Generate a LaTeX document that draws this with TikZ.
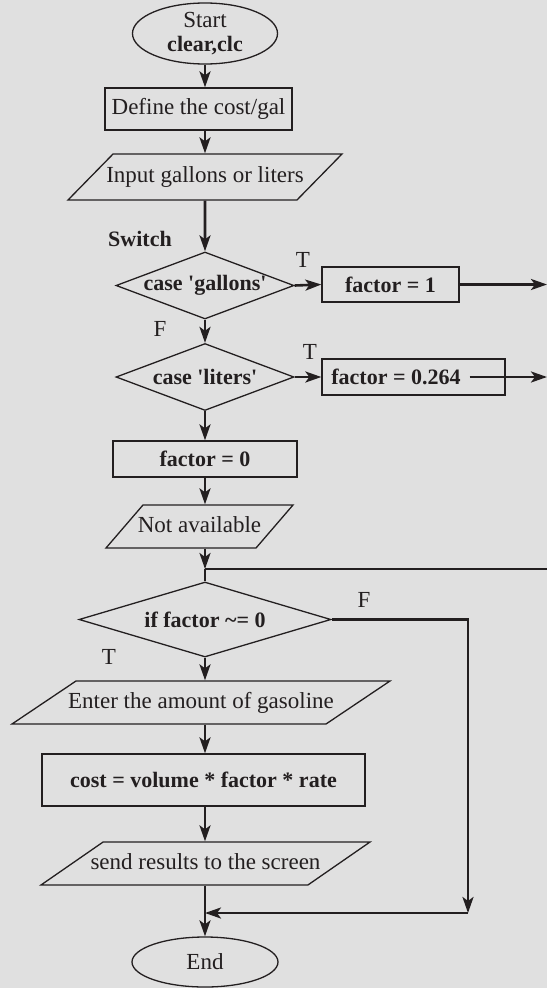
\documentclass[tikz,border=0pt]{standalone}
\usepackage{fontspec}
\setmainfont{Liberation Serif}
\usetikzlibrary{shapes.geometric,arrows.meta}
\definecolor{bg}{RGB}{224,224,224}
\definecolor{ink}{RGB}{35,31,32}
\begin{document}
\begin{tikzpicture}[x=1pt,y=-1pt,
  every node/.style={font=\fontsize{23}{24}\selectfont, text=ink},
  bf/.style={font=\fontsize{22}{24}\selectfont\bfseries},
  shapebox/.style={draw=ink, line width=1.3pt, rectangle, inner sep=0pt},
  para/.style={draw=ink, line width=1.3pt, trapezium, trapezium stretches body,
               inner xsep=-70pt, text height=16pt, text depth=5pt},
  dia/.style={draw=ink, line width=1.3pt, diamond, inner sep=0pt},
  term/.style={draw=ink, line width=1.3pt, ellipse, inner sep=0pt},
  flow/.style={draw=ink, line width=2.6pt},
  arr/.style={flow, -{Stealth[length=16pt,width=11pt,inset=4pt]}}
]
\fill[bg] (0,0) rectangle (547,988);
\useasboundingbox (0,0) rectangle (547,988);

\coordinate (sx) at (205,0);
\coordinate (rim) at (547,0);

% nodes
\node[term, minimum width=145pt, minimum height=61pt, align=center] (start) at (205,33.5)
  {Start\\{\fontsize{22}{24}\selectfont\bfseries clear,clc}};
\node[shapebox, minimum width=187pt, minimum height=42pt] (b1) at (198.5,109) {Define the cost/gal};
\node[para, trapezium left angle=45.6, trapezium right angle=134.4, inner ysep=12.5pt,
      minimum width=274pt] (p1) at (205,177) {Input gallons or liters};
\node[bf] (sw) at (140,239) {Switch};
\node[dia, bf, minimum width=178pt, minimum height=67pt, aspect=2.66] (d1) at (205,285.5)
  {case \textquotesingle gallons\textquotesingle};
\node[shapebox, bf, minimum width=137pt, minimum height=35pt] (f1) at (390.5,284.5) {factor = 1};
\node[dia, bf, minimum width=178pt, minimum height=67pt, aspect=2.66] (d2) at (205,377)
  {case \textquotesingle liters\textquotesingle};
\node[shapebox, minimum width=183pt, minimum height=36pt] (f2) at (413.5,377) {};
\node[bf] (f2t) at (396,377) {factor = 0.264};
\node[shapebox, bf, minimum width=184pt, minimum height=36pt] (f0) at (205,459) {factor = 0};
\node[para, trapezium left angle=49.3, trapezium right angle=130.7, inner ysep=11pt,
      minimum width=187pt] (na) at (199.5,526.5) {Not available};
\node[dia, bf, minimum width=252pt, minimum height=75pt, aspect=3.36] (d3) at (205,619.5)
  {if factor \textasciitilde= 0};
\node[para, trapezium left angle=33.9, trapezium right angle=146.1, inner ysep=11pt,
      minimum width=378pt] (en) at (201,702.5) {Enter the amount of gasoline};
\node[shapebox, bf, minimum width=323pt, minimum height=52pt] (cost) at (203.5,780)
  {cost = volume * factor * rate};
\node[para, trapezium left angle=34.7, trapezium right angle=145.3, inner ysep=11pt,
      minimum width=329pt] (sd) at (205.5,863.5) {send results to the screen};
\node[term, minimum width=146pt, minimum height=50pt] (end) at (205,962) {End};

% branch labels
\node (t1) at (303,260) {T};
\node (fl1) at (160,329) {F};
\node (t2) at (310,352) {T};
\node (fl3) at (364,600) {F};
\node (t3) at (109,657) {T};

% connectors
\coordinate (j1) at (205,569);
\coordinate (rr) at (468,0);
\coordinate (j2) at (205,913);

\draw[arr] (start.south) -- (start.south |- b1.north);
\draw[arr] (b1.south -| sx) -- (p1.north -| sx);
\draw[arr] (p1.south) -- (d1.north);
\draw[arr] (d1.east) -- (f1.west);
\draw[arr] (f1.east) -- (f1.east -| rim);
\draw[arr] (d1.south) -- (d2.north);
\draw[arr] (d2.east) -- (f2.west);
\draw[arr] ([xshift=-36pt]f2.east) -- (f2.east -| rim);
\draw[arr] (d2.south) -- (f0.north);
\draw[arr] (f0.south) -- (na.north -| sx);
\draw[arr] (na.south -| sx) -- (j1);
\draw[flow] (j1) -- (d3.north);
\draw[flow] (j1) -- (j1 -| rim);
\draw[arr] (d3.east) -- (d3.east -| rr) -- (rr |- j2);
\draw[arr] (rr |- j2) -- (j2);
\draw[arr] (d3.south) -- (en.north -| sx);
\draw[arr] (en.south -| sx) -- (cost.north -| sx);
\draw[arr] (cost.south -| sx) -- (sd.north -| sx);
\draw[arr] (sd.south -| sx) -- (end.north);
\end{tikzpicture}
\end{document}
